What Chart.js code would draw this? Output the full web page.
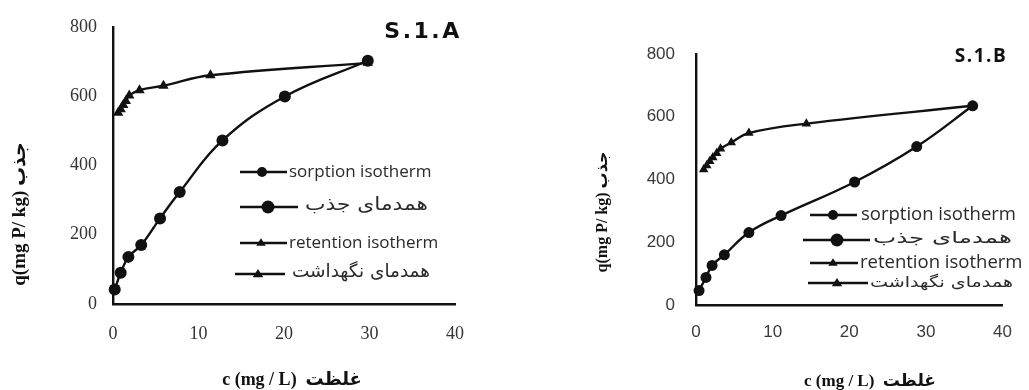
<!DOCTYPE html>
<html>
<head>
<meta charset="utf-8">
<script src="https://cdn.jsdelivr.net/npm/chart.js@4/dist/chart.umd.min.js"></script>
<style>
  html, body { margin: 0; padding: 0; background: #fff; width: 1029px; height: 390px; overflow: hidden; }
  canvas { position: absolute; top: 0; }
  #panelA { left: 0; }
  #panelB { left: 520px; }
</style>
</head>
<body>
<canvas id="panelA" width="520" height="390"></canvas>
<canvas id="panelB" width="509" height="390"></canvas>
<script>
// Soil S.1.A – equilibrium concentration c (mg/L) and amount q (mg P/kg)
const sorptionA_c  = [0.2, 0.9, 1.8, 3.3, 5.5, 7.8, 12.8, 20.1, 29.8];
const sorptionA_q  = [42, 90, 136, 170, 247, 323, 472, 599, 702];
const retentionA_c = [0.6, 0.9, 1.2, 1.5, 1.9, 3.1, 5.9, 11.4, 29.8];
const retentionA_q = [552, 562, 574, 586, 602, 617, 630, 660, 696];

// Soil S.1.B
const sorptionB_c  = [0.4, 1.3, 2.1, 3.7, 6.9, 11.1, 20.7, 28.8, 36.1];
const sorptionB_q  = [46, 88, 126, 160, 231, 285, 392, 505, 635];
const retentionB_c = [1.0, 1.4, 1.8, 2.2, 2.7, 3.2, 4.6, 6.9, 14.4, 36.1];
const retentionB_q = [432, 445, 458, 470, 484, 498, 518, 548, 578, 635];

// Axis ticks and captions
const xTicks = [0, 10, 20, 30, 40];
const yTicks = [0, 200, 400, 600, 800];
const xCaption = 'c (mg / L)  غلظت';
const yCaption = 'q(mg P/ kg) جذب';
const legendLabels = ['sorption isotherm', 'همدمای جذب', 'retention isotherm', 'همدمای نگهداشت'];
const legendMarkers = ['circle', 'circle', 'triangle', 'triangle'];
const panelTitles = ['S.1.A', 'S.1.B'];

const INK = '#111';

function pts(xs, ys) { return xs.map((x, i) => ({ x: x, y: ys[i] })); }

function drawMarker(ctx, style, x, y, r) {
  ctx.beginPath();
  if (style === 'circle') {
    ctx.arc(x, y, r, 0, Math.PI * 2);
  } else {
    const h = r * 1.5, w = r * 0.95;
    ctx.moveTo(x, y - h * 0.62);
    ctx.lineTo(x + w, y + h * 0.38);
    ctx.lineTo(x - w, y + h * 0.38);
    ctx.closePath();
  }
  ctx.fillStyle = INK;
  ctx.fill();
}

// Draws the in-plot legend, panel title and axis captions
const decorPlugin = {
  id: 'decor',
  afterDraw(chart, args, o) {
    const ctx = chart.ctx;
    ctx.save();
    // legend rows: line sample + marker + label
    o.rows.forEach((row, i) => {
      ctx.strokeStyle = INK;
      ctx.lineWidth = 2.4;
      ctx.beginPath();
      ctx.moveTo(row.x0, row.y);
      ctx.lineTo(row.x1, row.y);
      ctx.stroke();
      drawMarker(ctx, legendMarkers[i], row.mx, row.y, row.r);
      ctx.fillStyle = '#2a2a2a';
      ctx.textBaseline = 'middle';
      ctx.textAlign = 'left';
      ctx.font = row.size + 'px ' + row.family;
      const m = ctx.measureText(legendLabels[i]).width;
      const sx = row.w ? row.w / m : 1;
      ctx.save();
      ctx.translate(row.tx, row.y + (row.dy || 0));
      ctx.scale(sx, 1);
      ctx.fillText(legendLabels[i], 0, 0);
      ctx.restore();
    });
    // panel title
    ctx.fillStyle = '#111';
    ctx.textAlign = 'center';
    ctx.textBaseline = 'middle';
    ctx.font = o.title.font;
    ctx.letterSpacing = o.title.spacing + 'px';
    ctx.fillText(o.title.text, o.title.x, o.title.y);
    ctx.letterSpacing = '0px';
    // x caption
    ctx.font = o.xcap.font;
    ctx.fillText(xCaption, o.xcap.x, o.xcap.y);
    // y caption, rotated
    ctx.translate(o.ycap.x, o.ycap.y);
    ctx.rotate(-Math.PI / 2);
    ctx.font = o.ycap.font;
    ctx.fillText(yCaption, 0, 0);
    ctx.restore();
  }
};

function makePanel(id, g) {
  const canvas = document.getElementById(id);
  const W = canvas.width, H = canvas.height;
  return new Chart(canvas, {
    type: 'scatter',
    data: {
      datasets: [
        {
          label: legendLabels[0],
          data: pts(g.sc, g.sq),
          showLine: true,
          tension: 0.4,
          borderColor: INK,
          borderWidth: 2.4,
          pointStyle: 'circle',
          pointRadius: g.circleR,
          pointBackgroundColor: INK,
          pointBorderColor: INK,
          pointBorderWidth: 0,
          clip: false
        },
        {
          label: legendLabels[2],
          data: pts(g.rc, g.rq),
          showLine: true,
          tension: 0.4,
          borderColor: INK,
          borderWidth: 2.4,
          pointStyle: 'triangle',
          pointRadius: g.triR,
          pointBackgroundColor: INK,
          pointBorderColor: INK,
          pointBorderWidth: 0,
          clip: false
        }
      ]
    },
    options: {
      responsive: false,
      animation: false,
      events: [],
      layout: { padding: { left: 0, top: g.top, right: W - g.right, bottom: 0 } },
      plugins: {
        legend: { display: false },
        tooltip: { enabled: false },
        decor: g.decor
      },
      scales: {
        x: {
          type: 'linear',
          min: 0, max: 40,
          afterBuildTicks: s => { s.ticks = xTicks.map(v => ({ value: v })); },
          afterFit: s => { s.height = H - g.bottom; },
          grid: { display: false, drawTicks: false, tickLength: 0 },
          border: { display: true, color: INK, width: 2.4 },
          ticks: { font: g.tickFont, color: g.tickColor, padding: g.xPad, maxRotation: 0 }
        },
        y: {
          type: 'linear',
          min: 0, max: 800,
          afterBuildTicks: s => { s.ticks = yTicks.map(v => ({ value: v })); },
          afterFit: s => { s.width = g.left; },
          grid: { display: false, drawTicks: false, tickLength: 0 },
          border: { display: true, color: INK, width: 2.4 },
          ticks: { font: g.tickFont, color: g.tickColor, padding: g.yPad }
        }
      }
    },
    plugins: [decorPlugin]
  });
}

const sansLegend = '"Open Sans", "DejaVu Sans", sans-serif';
const persianLegend = '"DejaVu Sans", sans-serif';
const serifCaption = '"Liberation Serif", "DejaVu Sans", serif';

makePanel('panelA', {
  sc: sorptionA_c, sq: sorptionA_q, rc: retentionA_c, rq: retentionA_q,
  left: 113, right: 455, top: 26, bottom: 304,
  circleR: 6, triR: 6,
  tickFont: { family: '"Liberation Serif", serif', size: 18 },
  tickColor: '#333', xPad: 19, yPad: 16,
  decor: {
    rows: [
      { y: 172, x0: 240, x1: 287, mx: 262, r: 5,   tx: 289, size: 17, family: sansLegend },
      { y: 207, x0: 240, x1: 298, mx: 268, r: 6.5, tx: 305, size: 18, family: persianLegend, w: 123, dy: -2 },
      { y: 243, x0: 240, x1: 287, mx: 261, r: 5,   tx: 289, size: 17, family: sansLegend },
      { y: 274, x0: 235, x1: 285, mx: 258, r: 5.5, tx: 292, size: 18, family: persianLegend, w: 138, dy: -2 }
    ],
    title: { text: panelTitles[0], x: 423, y: 32, font: 'bold 22px "DejaVu Sans", sans-serif', spacing: 2.5 },
    xcap: { x: 292, y: 380, font: 'bold 18px ' + serifCaption },
    ycap: { x: 20, y: 214, font: 'bold 19px ' + serifCaption }
  }
});

makePanel('panelB', {
  sc: sorptionB_c, sq: sorptionB_q, rc: retentionB_c, rq: retentionB_q,
  left: 176, right: 498, top: 54, bottom: 305,
  circleR: 5.5, triR: 5.5,
  tickFont: { family: '"Liberation Sans", sans-serif', size: 17 },
  tickColor: '#3a3a3a', xPad: 17, yPad: 21,
  decor: {
    rows: [
      { y: 215, x0: 290, x1: 337, mx: 313, r: 5,   tx: 341, size: 18.5, family: sansLegend },
      { y: 240, x0: 283, x1: 350, mx: 317, r: 6.5, tx: 353, size: 16, family: persianLegend, w: 139, dy: -1 },
      { y: 263, x0: 290, x1: 338, mx: 313, r: 5,   tx: 340, size: 18.5, family: sansLegend },
      { y: 283, x0: 288, x1: 348, mx: 317, r: 5.5, tx: 350, size: 15, family: persianLegend, w: 143, dy: 0 }
    ],
    title: { text: panelTitles[1], x: 461, y: 57, font: 'bold 19px "Open Sans", sans-serif', spacing: 1.5 },
    xcap: { x: 350, y: 382, font: 'bold 17px ' + serifCaption },
    ycap: { x: 83, y: 212, font: 'bold 16px ' + serifCaption }
  }
});
</script>
</body>
</html>
